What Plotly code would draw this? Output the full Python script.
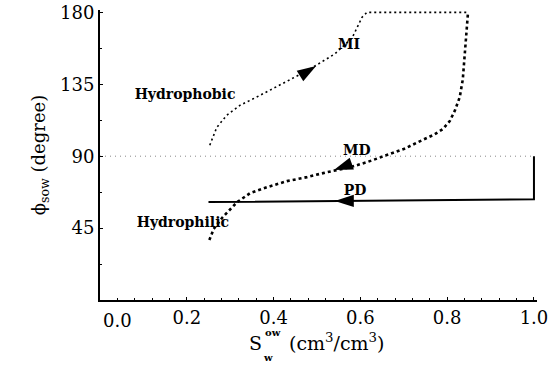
import plotly.graph_objects as go

# Contact angle paths vs. water saturation
mi_s = [0.253, 0.269, 0.292, 0.323, 0.361, 0.399, 0.44, 0.479, 0.541, 0.581, 0.604, 0.615, 0.70, 0.80, 0.848]
mi_phi = [96.9, 108, 115.6, 121.9, 127, 132.5, 138.5, 143.75, 154, 164, 177, 180, 180, 180, 180]

md_s = [0.252, 0.262, 0.283, 0.316, 0.346, 0.385, 0.431, 0.477, 0.514, 0.576, 0.615, 0.65, 0.70,
        0.742, 0.77, 0.79, 0.806, 0.818, 0.829, 0.836, 0.842, 0.848]
md_phi = [37.5, 44.5, 51.9, 61.25, 66.9, 70.6, 74.4, 76.9, 79.4, 83.1, 86.25, 89.5, 94.5,
          100, 103.5, 107, 112, 118.7, 127, 138, 160, 180]

pd_s = [1.0, 1.0, 0.25]
pd_phi = [90, 63.1, 61.3]

ref_s = [0.0, 1.0]
ref_phi = [90, 90]

# direction markers: (s, phi, angle clockwise from up)
arrows_s = [0.498, 0.539, 0.541]
arrows_phi = [146.5, 81.3, 62.0]
arrows_angle = [58, 250, 270]

x_ticks = [0.2, 0.4, 0.6, 0.8, 1.0]
x_ticktext = ["0.2", "0.4", "0.6", "0.8", "1.0"]
y_ticks = [45, 90, 135, 180]

labels = ["Hydrophobic", "Hydrophilic", "MI", "MD", "PD"]
labels_s = [0.196, 0.191, 0.574, 0.592, 0.588]
labels_phi = [128, 48, 159.5, 92.8, 67.8]

SERIF = "DejaVu Serif"

# plot area in pixels
L, R, T, B = 100, 13, 10, 65
PW, PH = 550 - L - R, 365 - T - B


def px_x(px):
    return (px - L) / PW


def px_y(py):
    return (365 - B - py) / PH


def note(px, py, text, size, bold=False):
    fig.add_annotation(x=px_x(px), y=px_y(py), xref="paper", yref="paper", text=text,
                       xanchor="center", yanchor="middle", showarrow=False,
                       font=dict(family=SERIF, size=size, color="black",
                                 weight="bold" if bold else "normal"))


fig = go.Figure()
fig.add_trace(go.Scatter(x=ref_s, y=ref_phi, mode="lines",
                         line=dict(color="#888888", width=1, dash="1px,4px")))
fig.add_trace(go.Scatter(x=mi_s, y=mi_phi, mode="lines",
                         line=dict(color="black", width=1.6, dash="2px,3px")))
fig.add_trace(go.Scatter(x=md_s, y=md_phi, mode="lines",
                         line=dict(color="black", width=2.6, dash="3px,3px")))
fig.add_trace(go.Scatter(x=pd_s, y=pd_phi, mode="lines",
                         line=dict(color="black", width=2)))
fig.add_trace(go.Scatter(x=arrows_s, y=arrows_phi, mode="markers", cliponaxis=False,
                         marker=dict(symbol="arrow", size=20, angle=arrows_angle,
                                     color="black", line=dict(width=0))))
fig.add_trace(go.Scatter(x=labels_s, y=labels_phi, mode="text", text=labels,
                         textfont=dict(family=SERIF, size=14, color="black", weight="bold"),
                         cliponaxis=False))

# leftmost x tick label sits just right of the axis corner
note(117, 320, "0.0", 18)

# x axis title with stacked sub/superscript on S
note(255, 343, "S", 19)
note(273, 332, "ow", 10, bold=True)
note(268, 357, "w", 10, bold=True)
note(337, 342, "(cm<sup>3</sup>/cm<sup>3</sup>)", 19)

fig.update_layout(
    width=550, height=365,
    margin=dict(l=L, r=R, t=T, b=B, autoexpand=False),
    paper_bgcolor="white", plot_bgcolor="white",
    showlegend=False,
    xaxis=dict(range=[0, 1.007], tickvals=x_ticks, ticktext=x_ticktext, automargin=False,
               showgrid=False, zeroline=False, showline=True, linecolor="black", linewidth=2,
               ticks="inside", ticklen=3, tickcolor="black", tickwidth=1,
               minor=dict(dtick=0.04, tick0=0, ticks="inside", ticklen=2, tickcolor="black"),
               tickfont=dict(family=SERIF, size=18, color="black")),
    yaxis=dict(range=[0, 181.5], tickvals=y_ticks, automargin=False,
               showgrid=False, zeroline=False, showline=True, linecolor="black", linewidth=2,
               ticks="inside", ticklen=3, tickcolor="black", tickwidth=1,
               minor=dict(dtick=22.5, tick0=0, ticks="inside", ticklen=2, tickcolor="black"),
               tickfont=dict(family=SERIF, size=18, color="black"),
               title=dict(text="ϕ<sub>sow</sub> (degree)", standoff=10,
                          font=dict(family=SERIF, size=18, color="black"))),
)

fig.write_html("out.html")
